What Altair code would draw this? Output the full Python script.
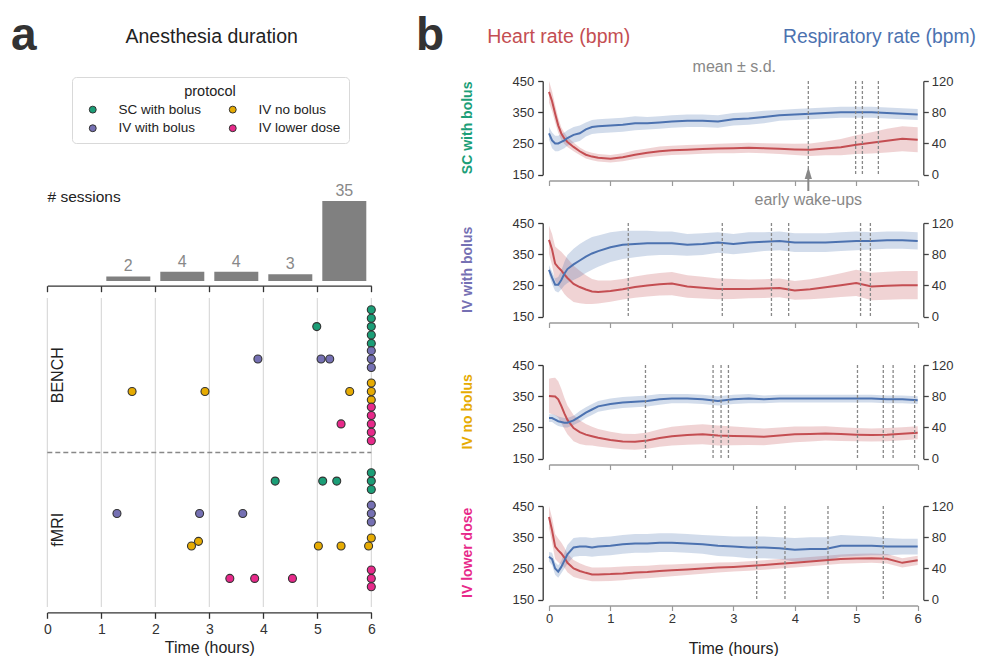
import altair as alt
import numpy as np
import pandas as pd

FONT = "Liberation Sans"
W, H = 969, 648


def px(v):
    """page pixel -> plot-area pixel (page margin is 8px)"""
    return v - 8


# ---------------- data: panel a ----------------
PROTOCOLS = ["SC with bolus", "IV with bolus", "IV no bolus", "IV lower dose"]
COLORS = ["#1b9e77", "#7570b3", "#e6ab02", "#e7298a"]
SESSIONS = ["BENCH", "fMRI"]
HOURS = [0, 1, 2, 3, 4, 5, 6]

# anesthesia duration of every session (hours)
DUR_BENCH_SC = [4.99, 6, 6, 6, 6, 6]
DUR_BENCH_IVB = [3.9, 5.07, 5.23, 6, 6, 6]
DUR_BENCH_IVN = [1.57, 2.92, 5.6, 6, 6, 6]
DUR_BENCH_IVL = [5.44, 6, 6, 6, 6, 6]
DUR_FMRI_SC = [4.22, 5.1, 5.36, 6, 6, 6]
DUR_FMRI_IVB = [1.29, 2.82, 3.62, 6, 6, 6]
DUR_FMRI_IVN = [2.67, 2.8, 5.02, 5.44, 5.95, 6]
DUR_FMRI_IVL = [3.38, 3.84, 4.54, 6, 6, 6]

DURATIONS = {
    "BENCH": [DUR_BENCH_SC, DUR_BENCH_IVB, DUR_BENCH_IVN, DUR_BENCH_IVL],
    "fMRI": [DUR_FMRI_SC, DUR_FMRI_IVB, DUR_FMRI_IVN, DUR_FMRI_IVL],
}

# ---------------- data: panel b (mean / s.d.) ----------------
T = [0, 0.05, 0.1, 0.15, 0.2, 0.25, 0.3, 0.4, 0.5, 0.6, 0.7, 0.8, 1.0, 1.2, 1.4, 1.6, 1.8,
     2.0, 2.25, 2.5, 2.75, 3.0, 3.25, 3.5, 3.75, 4.0, 4.25, 4.5, 4.75, 5.0, 5.25, 5.5, 5.75, 6.0]

HR_SC = [415, 385, 345, 308, 282, 266, 255, 239, 225, 214, 208, 204, 201, 206, 214, 220, 225,
         228, 230, 232, 234, 235, 236, 235, 233, 231, 230, 234, 238, 246, 252, 259, 265, 262]
HR_SC_SD = [35, 32, 28, 24, 20, 18, 16, 14, 12, 12, 12, 12, 12, 13, 14, 14, 15,
            15, 15, 15, 15, 16, 16, 16, 17, 18, 20, 22, 26, 30, 34, 38, 40, 40]
RR_SC = [53, 44, 40, 40, 42, 44, 47, 51, 53, 58, 61, 62, 63, 64, 66, 66, 67,
         68, 69, 69, 68, 71, 72, 74, 76, 77, 78, 79, 80, 80, 80, 79, 78, 77]
RR_SC_SD = [8, 10, 10, 10, 10, 10, 10, 10, 10, 9, 9, 9, 9, 9, 9, 8, 8,
            8, 8, 8, 8, 8, 8, 8, 7, 7, 7, 7, 7, 7, 7, 7, 7, 7]

HR_IVB = [396, 365, 320, 308, 298, 285, 274, 255, 245, 237, 231, 229, 232, 238, 245, 250, 254,
          256, 247, 243, 239, 239, 239, 240, 242, 234, 238, 244, 251, 258, 247, 249, 251, 251]
HR_IVB_SD = [45, 50, 55, 58, 60, 62, 62, 58, 52, 46, 40, 37, 34, 33, 34, 35, 36,
             37, 36, 35, 33, 32, 30, 30, 30, 30, 32, 35, 38, 42, 44, 45, 45, 45]
RR_IVB = [60, 50, 41, 41, 47, 55, 61, 67, 72, 77, 81, 84, 89, 92, 93, 94, 94,
          94, 92, 93, 95, 93, 95, 96, 97, 95, 95, 95, 96, 97, 97, 98, 98, 97]
RR_IVB_SD = [6, 8, 8, 10, 12, 15, 18, 20, 21, 21, 21, 20, 19, 18, 17, 16, 15,
             15, 14, 14, 13, 13, 13, 12, 12, 12, 12, 12, 12, 12, 11, 11, 11, 11]

HR_IVN = [351, 350, 349, 340, 319, 295, 274, 248, 235, 227, 222, 217, 210, 205, 204, 208, 216,
          222, 226, 228, 224, 223, 222, 220, 224, 228, 229, 231, 229, 227, 226, 227, 230, 233]
HR_IVN_SD = [55, 58, 60, 58, 55, 50, 46, 42, 38, 34, 30, 28, 26, 25, 25, 26, 28,
             30, 31, 32, 32, 30, 28, 27, 26, 25, 24, 23, 22, 21, 21, 21, 21, 21]
RR_IVN = [52, 52, 50, 48, 47, 46, 46, 49, 54, 59, 63, 67, 70, 72, 73, 74, 76,
          77, 77, 76, 74, 76, 77, 76, 77, 77, 77, 77, 77, 77, 77, 76, 76, 75]
RR_IVN_SD = [5, 5, 6, 6, 6, 6, 6, 6, 7, 7, 7, 7, 7, 7, 7, 7, 7,
             6, 6, 6, 6, 6, 6, 5, 5, 5, 5, 5, 5, 5, 5, 5, 5, 5]

HR_IVL = [415, 372, 320, 308, 298, 285, 268, 250, 242, 236, 231, 231, 232, 234, 237, 239, 242,
          244, 247, 250, 253, 255, 258, 261, 265, 268, 272, 276, 280, 282, 283, 281, 268, 276]
HR_IVL_SD = [35, 40, 40, 38, 35, 32, 30, 27, 25, 23, 22, 22, 22, 22, 21, 20, 20,
             19, 18, 17, 16, 15, 15, 15, 15, 15, 15, 15, 15, 15, 15, 15, 15, 15]
RR_IVL = [55, 52, 40, 36, 42, 50, 58, 67, 68, 68, 67, 68, 69, 71, 72, 72, 73,
          73, 72, 71, 69, 68, 67, 67, 66, 64, 65, 65, 69, 69, 69, 68, 68, 68]
RR_IVL_SD = [6, 8, 8, 8, 8, 10, 12, 12, 12, 12, 12, 12, 12, 12, 12, 12, 12,
             12, 12, 12, 13, 13, 14, 14, 14, 15, 15, 15, 14, 13, 12, 11, 10, 10]

SERIES = {
    "SC with bolus": (HR_SC, HR_SC_SD, RR_SC, RR_SC_SD),
    "IV with bolus": (HR_IVB, HR_IVB_SD, RR_IVB, RR_IVB_SD),
    "IV no bolus": (HR_IVN, HR_IVN_SD, RR_IVN, RR_IVN_SD),
    "IV lower dose": (HR_IVL, HR_IVL_SD, RR_IVL, RR_IVL_SD),
}

HR_COLOR = "#c44e52"
RR_COLOR = "#4c72b0"
GREY = "#888888"
DARK = "#333333"

# ---------------- derived tables ----------------
# swarm placement of session dots (like a dodged beeswarm)
X_PX, Y_PX, DIAM, DODGE = 54.0, 154.5, 8.4, 0.21
dot_rows = []
for si, sess in enumerate(SESSIONS):
    for pi, prot in enumerate(PROTOCOLS):
        center = si + 0.5 + (pi - 1.5) * DODGE
        placed = []
        for v in sorted(DURATIONS[sess][pi]):
            xp = v * X_PX
            cands = [0.0]
            for xq, yq in placed:
                dx = abs(xp - xq)
                if dx < DIAM:
                    hh = float(np.sqrt(DIAM ** 2 - dx ** 2))
                    cands += [yq - hh, yq + hh]
            cands = sorted(cands, key=lambda c: (round(abs(c), 6), c))
            chosen = cands[-1]
            for c in cands:
                if all((xp - xq) ** 2 + (c - yq) ** 2 >= DIAM ** 2 - 1e-6 for xq, yq in placed):
                    chosen = c
                    break
            placed.append((xp, chosen))
            dot_rows.append({"session": sess, "protocol": prot, "duration": v,
                             "row": center + chosen / Y_PX})
dots_df = pd.DataFrame(dot_rows)

all_dur = [v for sess in SESSIONS for lst in DURATIONS[sess] for v in lst]
counts, edges = np.histogram(all_dur, bins=HOURS)
hist_df = pd.DataFrame({"b0": edges[:-1], "b1": edges[1:], "n": counts})
hist_df["mid"] = (hist_df.b0 + hist_df.b1) / 2
hist_df = hist_df[hist_df.n > 0]

# ---------------- scales ----------------
xa = dict(domain=[0, 6], range=[px(47.3), px(371.3)], nice=False, zero=False)
ya_dot = dict(domain=[0, 2], range=[px(298), px(607)], nice=False, zero=False)
ya_hist = dict(domain=[0, 35], range=[px(281), px(201)], nice=False, zero=False)
XB_RANGE = [px(549), px(917.7)]
SUB_TOPS = [81, 223, 365, 506]
SUB_H = 93.7

layers = []


def txt(s, x, y, size, color="#222222", weight="normal", angle=0, align="center",
        baseline="middle"):
    return alt.Chart(pd.DataFrame({"t": [s]})).mark_text(
        fontSize=size, font=FONT, color=color, fontWeight=weight, angle=angle,
        align=align, baseline=baseline
    ).encode(x=alt.value(px(x)), y=alt.value(px(y)), text="t:N")


# ---- panel a: grid lines
layers.append(
    alt.Chart(pd.DataFrame({"h": HOURS})).mark_rule(color="#d2d2d2", strokeWidth=1).encode(
        x=alt.X("h:Q", scale=alt.Scale(**xa), axis=None),
        y=alt.value(px(298)), y2=alt.value(px(607)))
)
# separator between sessions
layers.append(
    alt.Chart(pd.DataFrame({"s": [1.0], "a": [0], "b": [6]})).mark_rule(
        color=GREY, strokeDash=[5, 3], strokeWidth=1.3).encode(
        x=alt.X("a:Q", scale=alt.Scale(**xa), axis=None), x2="b:Q",
        y=alt.Y("s:Q", scale=alt.Scale(**ya_dot), axis=None))
)
# session labels
layers.append(
    alt.Chart(pd.DataFrame({"session": SESSIONS, "c": [0.5, 1.5]})).mark_text(
        angle=270, fontSize=16, font=FONT, color="#222222", baseline="middle").encode(
        x=alt.value(px(58)), y=alt.Y("c:Q", scale=alt.Scale(**ya_dot), axis=None),
        text="session:N")
)
# dots
layers.append(
    alt.Chart(dots_df).mark_circle(size=64, opacity=1, stroke=DARK, strokeWidth=1.1).encode(
        x=alt.X("duration:Q", scale=alt.Scale(**xa),
                axis=alt.Axis(orient="bottom", offset=px(612.3) - H, values=HOURS,
                              title="Time (hours)", tickSize=6, domainColor=DARK,
                              tickColor=DARK, domainWidth=1.3, tickWidth=1.3,
                              labelFontSize=14, labelColor=DARK, labelPadding=4,
                              labelFlush=False, titleFontSize=16, titleFontWeight="normal",
                              titleColor="#222222", titlePadding=3, grid=False)),
        y=alt.Y("row:Q", scale=alt.Scale(**ya_dot), axis=None),
        color=alt.Color("protocol:N", scale=alt.Scale(domain=PROTOCOLS, range=COLORS),
                        legend=alt.Legend(
                            orient="none", legendX=px(72), legendY=px(77), columns=2,
                            title="protocol", titleAnchor="middle", titleFontSize=14.5,
                            titleFontWeight="normal", titleColor="#222222", titlePadding=3,
                            labelFontSize=13.5, labelColor="#222222", symbolType="circle",
                            symbolSize=48, symbolStrokeColor=DARK, symbolStrokeWidth=1,
                            symbolOffset=6, labelOffset=19, columnPadding=18, rowPadding=4,
                            padding=8, fillColor="white", strokeColor="#d9d9d9",
                            cornerRadius=4)),
    )
)
# histogram
layers.append(
    alt.Chart(hist_df).mark_rect(color="#808080", xOffset=5, x2Offset=-5).encode(
        x=alt.X("b0:Q", scale=alt.Scale(**xa),
                axis=alt.Axis(orient="bottom", offset=px(285.7) - H, values=HOURS,
                              labels=False, title="", tickSize=6, domainColor=DARK,
                              tickColor=DARK, domainWidth=1.3, tickWidth=1.3, grid=False)),
        x2="b1:Q",
        y=alt.Y("n:Q", scale=alt.Scale(**ya_hist), axis=None),
        y2=alt.Y2(datum=0))
)
layers.append(
    alt.Chart(hist_df).mark_text(fontSize=16, font=FONT, color=GREY, dy=-5,
                                 baseline="alphabetic").encode(
        x=alt.X("mid:Q", scale=alt.Scale(**xa), axis=None),
        y=alt.Y("n:Q", scale=alt.Scale(**ya_hist), axis=None),
        text="n:Q")
)

# ---- panel b
for k, prot in enumerate(PROTOCOLS):
    top = SUB_TOPS[k]
    bot = top + SUB_H
    yr = [px(bot), px(top)]
    hr, hr_sd, rr, rr_sd = SERIES[prot]
    d = pd.DataFrame({"t": T, "hr": hr, "rr": rr})
    d["hr_lo"] = d.hr - np.array(hr_sd)
    d["hr_hi"] = d.hr + np.array(hr_sd)
    d["rr_lo"] = d.rr - np.array(rr_sd)
    d["rr_hi"] = d.rr + np.array(rr_sd)

    def xs():
        return alt.Scale(domain=[0, 6], range=XB_RANGE, nice=False, zero=False)

    def hs():
        return alt.Scale(domain=[150, 450], range=yr, nice=False, zero=False, clamp=True)

    def rs():
        return alt.Scale(domain=[0, 120], range=yr, nice=False, zero=False, clamp=True)

    last = k == 3
    xax = dict(orient="bottom", offset=px(bot + 5.8) - H, values=HOURS, labels=last,
               tickSize=5, domainColor="#9a9a9a", tickColor="#9a9a9a", domainWidth=1.6,
               tickWidth=1.2, labelFontSize=13, labelColor=DARK, labelPadding=2,
               labelFlush=False, grid=False)
    if last:
        xax.update(title="Time (hours)", titleFontSize=16, titleFontWeight="normal",
                   titleColor="#222222", titlePadding=15)
    else:
        xax.update(title="")

    layers.append(
        alt.Chart(d).mark_area(color=HR_COLOR, opacity=0.25).encode(
            x=alt.X("t:Q", scale=xs(), axis=alt.Axis(**xax)),
            y=alt.Y("hr_lo:Q", scale=hs(), axis=None), y2="hr_hi:Q")
    )
    layers.append(
        alt.Chart(d).mark_area(color=RR_COLOR, opacity=0.25).encode(
            x=alt.X("t:Q", scale=xs(), axis=None),
            y=alt.Y("rr_lo:Q", scale=rs(), axis=None), y2="rr_hi:Q")
    )
    layers.append(
        alt.Chart(d).mark_line(color=HR_COLOR, strokeWidth=2).encode(
            x=alt.X("t:Q", scale=xs(), axis=None),
            y=alt.Y("hr:Q", scale=hs(),
                    axis=alt.Axis(orient="left", offset=-px(542.7), values=[150, 250, 350, 450],
                                  title="", tickSize=5, domainColor=DARK, tickColor=DARK,
                                  domainWidth=1.3, tickWidth=1.3, labelFontSize=13,
                                  labelColor=DARK, labelPadding=4, labelFlush=False,
                                  grid=False)))
    )
    layers.append(
        alt.Chart(d).mark_line(color=RR_COLOR, strokeWidth=2).encode(
            x=alt.X("t:Q", scale=xs(), axis=None),
            y=alt.Y("rr:Q", scale=rs(),
                    axis=alt.Axis(orient="right", offset=px(923.3) - W,
                                  values=[0, 40, 80, 120], title="", tickSize=5,
                                  domainColor="#444444", tickColor="#444444",
                                  domainWidth=1.3, tickWidth=1.3, labelFontSize=13,
                                  labelColor=DARK, labelPadding=3, labelFlush=False,
                                  grid=False)))
    )
    wake = sorted(v for sess in SESSIONS for v in DURATIONS[sess][k] if v < 6)
    layers.append(
        alt.Chart(pd.DataFrame({"w": wake})).mark_rule(
            color=GREY, strokeDash=[3, 2], strokeWidth=1.3).encode(
            x=alt.X("w:Q", scale=xs(), axis=None),
            y=alt.Y(datum=450, scale=hs(), axis=None), y2=alt.Y2(datum=150))
    )
    layers.append(txt(prot, 468, (top + bot) / 2, 14, color=COLORS[k], weight="bold",
                      angle=270))
    if k == 0:
        first = pd.DataFrame({"w": [wake[0]], "lab": ["early wake-ups"]})
        layers.append(
            alt.Chart(first).mark_rule(color=GREY, strokeWidth=2).encode(
                x=alt.X("w:Q", scale=xs(), axis=None),
                y=alt.value(px(176)), y2=alt.value(px(191)))
        )
        layers.append(
            alt.Chart(first).mark_point(shape="M0,-1L-0.6,1L0.6,1Z", filled=True, size=144,
                                        color=GREY, opacity=1).encode(
                x=alt.X("w:Q", scale=xs(), axis=None), y=alt.value(px(173)))
        )
        layers.append(
            alt.Chart(first).mark_text(fontSize=16, font=FONT, color=GREY,
                                       baseline="middle").encode(
                x=alt.X("w:Q", scale=xs(), axis=None), y=alt.value(px(200)),
                text="lab:N")
        )

# ---- texts
layers.append(txt("a", 11, 50, 46, color=DARK, weight="bold", align="left",
                  baseline="alphabetic"))
layers.append(txt("b", 416, 50, 46, color=DARK, weight="bold", align="left",
                  baseline="alphabetic"))
layers.append(txt("Anesthesia duration", 211.7, 43, 19.5, baseline="alphabetic"))
layers.append(txt("# sessions", 47.5, 196.5, 15.5, align="left"))
layers.append(txt("Heart rate (bpm)", 558.7, 43, 19.5, color=HR_COLOR, baseline="alphabetic"))
layers.append(txt("Respiratory rate (bpm)", 879.5, 43, 19.3, color=RR_COLOR,
                  baseline="alphabetic"))
layers.append(txt("mean ± s.d.", 734.3, 72, 16, color=GREY, baseline="alphabetic"))

chart = (
    alt.layer(*layers)
    .resolve_scale(x="independent", y="independent")
    .resolve_axis(x="independent", y="independent")
    .properties(width=W, height=H, padding=0,
                autosize=alt.AutoSizeParams(type="none"))
    .configure_view(stroke=None)
    .configure_axis(labelFont=FONT, titleFont=FONT, grid=False)
    .configure_legend(labelFont=FONT, titleFont=FONT)
    .configure_text(font=FONT)
)

chart.save("out.html", embed_options={"renderer": "svg", "actions": False})
